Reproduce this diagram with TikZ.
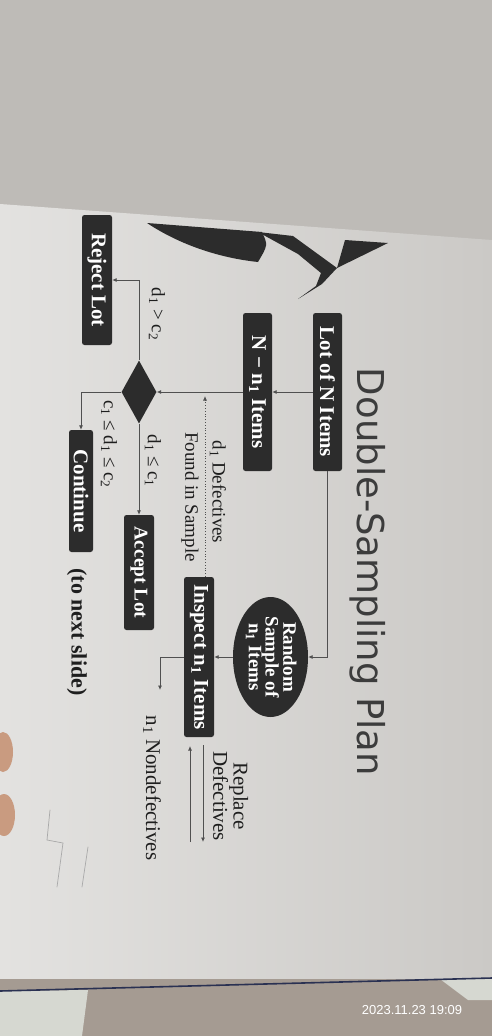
\documentclass[tikz,border=0pt]{standalone}
\usepackage{fontspec}
\setmainfont{Liberation Serif}
\newfontfamily\titlefont{DejaVu Sans}
\newfontfamily\stampfont{Liberation Sans}
\usetikzlibrary{shapes.geometric,arrows.meta}

\definecolor{wallgray}{HTML}{BEBBB7}
\definecolor{pageleft}{HTML}{E3E2E0}
\definecolor{pageright}{HTML}{CBC9C6}
\definecolor{boxdark}{HTML}{2C2C2C}
\definecolor{linegray}{HTML}{505050}
\definecolor{labeltext}{HTML}{1E1E1E}
\definecolor{titlegray}{HTML}{3C3C3C}
\definecolor{desk}{HTML}{A59B92}
\definecolor{cloth}{HTML}{D6D8D1}
\definecolor{edgeblue}{HTML}{2A3152}
\definecolor{skin}{HTML}{C99B80}
\definecolor{pencil}{HTML}{A9A9A9}

\begin{document}
\begin{tikzpicture}[x=1pt,y=-1pt,
  flowbox/.style={fill=boxdark, text=white, inner sep=0pt, rounded corners=2.5pt,
    font=\bfseries\fontsize{21}{23}\selectfont},
  label/.style={text=labeltext, inner sep=0pt, font=\fontsize{19}{21}\selectfont},
  arr/.style={draw=linegray, line width=0.8pt, -{Latex[length=4.5pt,width=4pt]}},
  dotarr/.style={draw=linegray, line width=0.8pt, dotted, -{Latex[length=4.5pt,width=4pt]}}]

% frame and photo surroundings
\useasboundingbox (0,0) rectangle (492,1036);
\fill[wallgray] (0,0) rectangle (492,260);
\shade[left color=pageleft, right color=pageright]
  (0,204) -- (492,240) -- (492,979) -- (0,991) -- cycle;
\fill[desk] (0,979) -- (492,979) -- (492,1036) -- (0,1036) -- cycle;
\fill[cloth] (0,991) -- (88,990) -- (82,1036) -- (0,1036) -- cycle;
\fill[cloth] (440,979) -- (492,978) -- (492,1000) -- (468,1000) -- cycle;
\draw[edgeblue, line width=1.6pt] (0,991) -- (492,978);

% dark shapes near the top edge of the page
\fill[boxdark] (147,223) -- (262,232) .. controls (268,245) .. (258,262)
  .. controls (220,258) and (180,245) .. cycle;
\fill[boxdark] (258,232) -- (293,236) -- (337,268) -- (322,284) -- (298,299)
  -- (316,286) -- (321,273) -- (298,254) -- cycle;
\fill[boxdark] (345,240) -- (388,243) -- (337,268) -- cycle;

% fingertips and pencil marks
\fill[skin] (3,752) ellipse [x radius=10, y radius=20];
\fill[skin] (4,815) ellipse [x radius=11, y radius=21];
\draw[pencil, line width=0.7pt, line cap=round] (50,810) -- (47,840) -- (63,843) -- (57,887);
\draw[pencil, line width=0.7pt, line cap=round] (88,847) -- (82,887);

% title
\node[font=\titlefont\fontsize{37}{40}\selectfont, text=titlegray, inner sep=0pt]
  (title) at (368,572) {\rotatebox{-90}{Double-Sampling Plan}};

% process boxes
\node[flowbox, minimum width=29, minimum height=158] (lot) at (327.5,392)
  {\rotatebox{-90}{Lot of N Items}};
\node[flowbox, minimum width=29, minimum height=158] (nn) at (257.5,392)
  {\rotatebox{-90}{N − n\textsubscript{1} Items}};
\node[flowbox, minimum width=30, minimum height=130] (rej) at (97,280)
  {\rotatebox{-90}{Reject Lot}};
\node[flowbox, minimum width=24, minimum height=122] (cont) at (81,491)
  {\rotatebox{-90}{Continue}};
\node[flowbox, minimum width=30, minimum height=115, font=\bfseries\fontsize{19.5}{22}\selectfont]
  (acc) at (139,572.5) {\rotatebox{-90}{Accept Lot}};
\node[flowbox, minimum width=30, minimum height=160] (insp) at (199,657)
  {\rotatebox{-90}{Inspect n\textsubscript{1} Items}};

% random sample ellipse and decision diamond
\node[ellipse, fill=boxdark, minimum width=75, minimum height=120, inner sep=0pt]
  (rs) at (270.5,657) {};
\node[text=white, inner sep=0pt, font=\bfseries\fontsize{19}{14.5}\selectfont]
  (rstext) at (rs.center)
  {\rotatebox{-90}{\begin{tabular}{@{}c@{}}Random\\Sample of\\n\textsubscript{1} Items\end{tabular}}};
\node[diamond, fill=boxdark, minimum width=35, minimum height=63, inner sep=0pt]
  (dia) at (139,392) {};

% labels
\node[label] (dlab) at (218,492) {\rotatebox{-90}{d\textsubscript{1} Defectives}};
\node[label] (flab) at (190,497) {\rotatebox{-90}{Found in Sample}};
\node[label] (gt) at (157,314) {\rotatebox{-90}{d\textsubscript{1} > c\textsubscript{2}}};
\node[label] (mid) at (109,444) {\rotatebox{-90}{c\textsubscript{1} ≤ d\textsubscript{1} ≤ c\textsubscript{2}}};
\node[label] (le) at (153,461) {\rotatebox{-90}{d\textsubscript{1} ≤ c\textsubscript{1}}};
\node[label, font=\fontsize{21}{18}\selectfont] (rep) at (228,796)
  {\rotatebox{-90}{\begin{tabular}{@{}c@{}}Replace\\Defectives\end{tabular}}};
\node[label, font=\fontsize{21}{23}\selectfont] (nd) at (152,788)
  {\rotatebox{-90}{n\textsubscript{1} Nondefectives}};
\node[label, font=\bfseries\fontsize{22}{24}\selectfont] (next) at (77,632)
  {\rotatebox{-90}{(to next slide)}};

% free ends of connectors
\coordinate (djoin) at (205,396);
\coordinate (ndin) at (160,690);
\coordinate (outA) at (203,745);
\coordinate (outB) at (203,842);
\coordinate (backA) at (190,842);
\coordinate (backB) at (190,746);

% connectors
\draw[arr] (lot.south) |- (rs.east);
\draw[arr] (rs.west) -- (insp.east);
\draw[arr] (lot.west) -- (nn.east);
\draw[arr] (nn.west) -- (dia.east);
\draw[dotarr] ([xshift=6pt]insp.north) -- (djoin);
\draw[arr] (insp.west) -| (ndin);
\draw[arr] (outA) -- (outB);
\draw[arr] (backA) -- (backB);
\draw[arr] (dia.north) |- (rej.east);
\draw[arr] (dia.west) -| (cont.north);
\draw[arr] (dia.south) -- (acc.north);

% camera timestamp
\node[font=\stampfont\fontsize{13}{15}\selectfont, text=white, inner sep=0pt]
  (stamp) at (412,1010) {2023.11.23 19:09};
\end{tikzpicture}
\end{document}
